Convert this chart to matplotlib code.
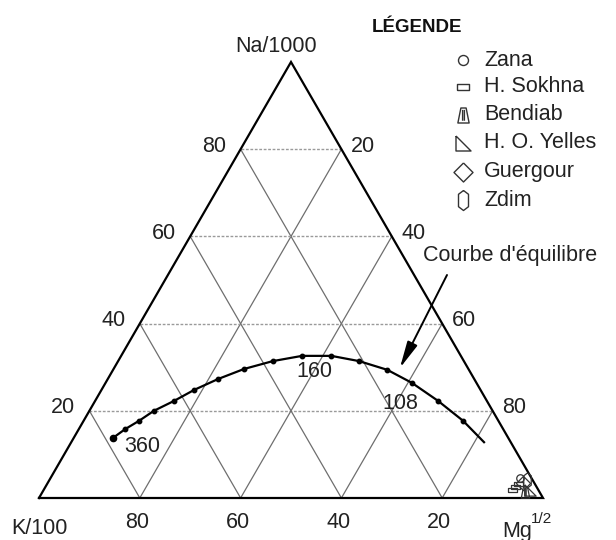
import matplotlib
matplotlib.use("Agg")
import matplotlib.pyplot as plt
from matplotlib.path import Path

plt.rcParams['font.family'] = ['Liberation Sans', 'DejaVu Sans']

# ---------------- data ----------------
grid_levels = [20, 40, 60, 80]                  # percent
na_tick_labels = ['20', '40', '60', '80']       # left edge (Na)
mg_tick_labels = ['80', '60', '40', '20']       # right edge (Mg), for Na = 20..80
k_tick_labels = ['80', '60', '40', '20']        # bottom edge (K), left -> right
k_tick_values = [80, 60, 40, 20]

apex_labels = ['Na/1000', 'K/100', 'Mg']

# equilibrium curve (Na %, Mg %)
curve_na = [13.8, 15.8, 17.7, 20.0, 22.3, 24.8, 27.3, 29.6, 31.4, 32.6,
            32.6, 31.4, 29.4, 26.4, 22.3, 17.7, 12.8]
curve_mg = [7.8, 9.2, 11.0, 12.8, 15.7, 18.4, 21.9, 25.9, 30.7, 35.9,
            41.7, 47.8, 54.4, 60.8, 68.0, 75.3, 81.9]
curve_labels = ['360', '160', '108']
curve_label_na = [11.9, 29.1, 21.6]
curve_label_mg = [14.5, 40.0, 60.8]

# sources (Na %, Mg %)
sources = ['Zana', 'H. Sokhna', 'Bendiab', 'H. O. Yelles', 'Guergour', 'Zdim']
source_na = [[4.6], [1.8, 2.5, 3.2], [1.4], [1.8], [3.4], [4.1]]
source_mg = [[93.1], [92.95, 93.2, 93.4], [95.7], [96.5], [94.3], [94.8]]

# ---------------- layout ----------------
W, H = 616, 540
fig = plt.figure(figsize=(W / 100, H / 100), dpi=100)
fig.patch.set_facecolor('white')

# triangle corners in pixels: K (39,498), Mg (543,498), apex (291,62)
ax = fig.add_axes([39 / W, 1 - 498 / H, 504 / W, 436 / H])
ax.set_xlim(0, 1)
ax.set_ylim(0, 1)
ax.axis('off')

ov = fig.add_axes([0, 0, 1, 1], zorder=5)
ov.set_xlim(0, W)
ov.set_ylim(H, 0)
ov.axis('off')
ov.patch.set_alpha(0)


def tern(na, mg):
    return (mg + na / 2.0) / 100.0, na / 100.0


PX = 0.72  # points per pixel
FS = 15.5

# outline
tri_x, tri_y = zip(*[tern(0, 0), tern(0, 100), tern(100, 0), tern(0, 0)])
ax.plot(tri_x, tri_y, color='black', lw=1.6, solid_joinstyle='miter', clip_on=False, zorder=3)

# grid
for v in grid_levels:
    x0, y0 = tern(v, 0)
    x1, y1 = tern(v, 100 - v)
    ax.plot([x0, x1], [y0, y1], color='#9a9a9a', lw=1.0, ls=(0, (2, 1.2)), zorder=1)
    x0, y0 = tern(0, 100 - v)
    x1, y1 = tern(100 - v, 0)
    ax.plot([x0, x1], [y0, y1], color='#6e6e6e', lw=0.9, zorder=1)
    x0, y0 = tern(0, v)
    x1, y1 = tern(100 - v, v)
    ax.plot([x0, x1], [y0, y1], color='#6e6e6e', lw=0.9, zorder=1)

# tick labels
for v, lab in zip(grid_levels, na_tick_labels):
    ax.annotate(lab, tern(v, 0), xytext=(-26 * PX, 3 * PX), textcoords='offset points',
                ha='center', va='center', fontsize=FS, color='#222222')
for v, lab in zip(grid_levels, mg_tick_labels):
    ax.annotate(lab, tern(v, 100 - v), xytext=(22 * PX, 3 * PX), textcoords='offset points',
                ha='center', va='center', fontsize=FS, color='#222222')
for kv, lab in zip(k_tick_values, k_tick_labels):
    ax.annotate(lab, tern(0, 100 - kv), xytext=(-3 * PX, -25 * PX), textcoords='offset points',
                ha='center', va='center', fontsize=FS, color='#222222')

# apex labels
ax.annotate(apex_labels[0], tern(100, 0), xytext=(-15 * PX, 15 * PX), textcoords='offset points',
            ha='center', va='center', fontsize=FS, color='#222222')
ax.annotate(apex_labels[1], tern(0, 0), xytext=(0, -30 * PX), textcoords='offset points',
            ha='center', va='center', fontsize=FS, color='#222222')
ax.annotate(apex_labels[2], tern(0, 100), xytext=(-26 * PX, -33 * PX), textcoords='offset points',
            ha='center', va='center', fontsize=FS, color='#222222')
ax.annotate('1/2', tern(0, 100), xytext=(-2 * PX, -21 * PX), textcoords='offset points',
            ha='center', va='center', fontsize=11, color='#222222')

# equilibrium curve
cx, cy = zip(*[tern(n, m) for n, m in zip(curve_na, curve_mg)])
ax.plot(cx, cy, color='black', lw=1.6, zorder=4)
ax.plot(cx[:-1], cy[:-1], 'o', color='black', ms=3.2, zorder=4)
ax.plot(cx[:1], cy[:1], 'o', color='black', ms=4.5, zorder=4)
for lab, n, m in zip(curve_labels, curve_label_na, curve_label_mg):
    ax.text(*tern(n, m), lab, ha='center', va='center', fontsize=FS, color='#222222', zorder=5)

# markers
rect = [(-1, -0.55), (1, -0.55), (1, 0.55), (-1, 0.55), (-1, -0.55)]
bend = Path([(-0.35, 1), (0.35, 1), (0.75, -1), (-0.75, -1), (-0.35, 1),
             (-0.12, 0.75), (-0.12, -0.7), (0.12, 0.75), (0.12, -0.7)],
            [Path.MOVETO, Path.LINETO, Path.LINETO, Path.LINETO, Path.CLOSEPOLY,
             Path.MOVETO, Path.LINETO, Path.MOVETO, Path.LINETO])
rtri = [(-1, 1), (-1, -1), (1, -1), (-1, 1)]
diam = [(0, 1), (1, 0), (0, -1), (-1, 0), (0, 1)]
hexa = [(0, 1), (0.5, 0.62), (0.5, -0.62), (0, -1), (-0.5, -0.62), (-0.5, 0.62), (0, 1)]
marker_styles = ['o', rect, bend, rtri, diam, hexa]
marker_sizes = [10, 12, 15, 15, 19, 20]  # px (legend)

for s, na, mg, mk, sz in zip(sources, source_na, source_mg, marker_styles, marker_sizes):
    pts = [tern(n, m) for n, m in zip(na, mg)]
    px, py = zip(*pts)
    ax.plot(px, py, ls='none', marker=mk, ms=sz * PX * 0.75, mfc='none', mec='#333333',
            mew=0.9, zorder=6, clip_on=False)

# legend
ov.text(417, 27, 'LÉGENDE', ha='center', va='center', fontsize=13.5, fontweight='bold', color='#111111')
row_y = [60, 87, 115, 143, 172, 200]
for s, mk, sz, yy in zip(sources, marker_styles, marker_sizes, row_y):
    ov.plot([463], [yy], ls='none', marker=mk, ms=sz * PX, mfc='none', mec='#333333', mew=1.0)
    ov.text(484, yy, s, ha='left', va='center', fontsize=FS, color='#222222')

# courbe d'equilibre annotation
ov.text(423, 256, "Courbe d'équilibre", ha='left', va='center', fontsize=FS, color='#222222')
ov.annotate('', xy=tern(29.8, 56.7), xycoords=ax.transData, xytext=(447, 275), textcoords='data',
            arrowprops=dict(arrowstyle='-|>,head_length=0.9,head_width=0.18', color='black',
                            lw=1.4, shrinkA=0, shrinkB=0, mutation_scale=18))

fig.savefig('out.png', dpi=100, facecolor='white')
